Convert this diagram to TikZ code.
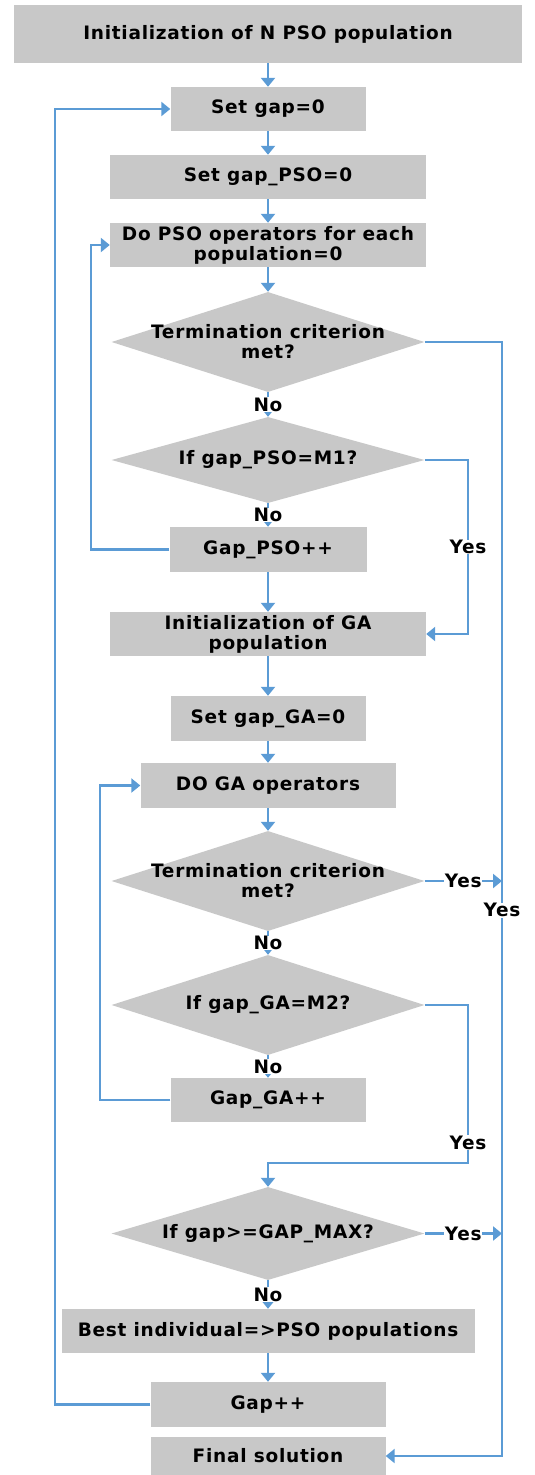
\documentclass[tikz,border=0pt]{standalone}
\usepackage{fontspec}
\setmainfont{DejaVu Sans}[LetterSpace=4]
\usetikzlibrary{shapes.geometric,arrows.meta}
\definecolor{boxgray}{HTML}{C8C8C8}
\definecolor{lineblue}{HTML}{5B9BD5}
\begin{document}
\begin{tikzpicture}[x=1pt,y=-1pt,
  every node/.style={font=\bfseries\fontsize{18.5}{20}\selectfont, align=center},
  box/.style={fill=boxgray, inner sep=0pt},
  dia/.style={diamond, fill=boxgray, inner sep=0pt},
  dtxt/.style={fill=none, inner sep=0pt, align=center},
  arr/.style={draw=lineblue, line width=2.3pt, -{Triangle[length=9pt,width=14pt]}},
  lab/.style={fill=white, inner sep=0.5pt}]
\useasboundingbox (0,0) rectangle (535,1475);
% boxes
\node[box, minimum width=508pt, minimum height=58pt] (init) at (268,34) {Initialization of N PSO population};
\node[box, minimum width=195pt, minimum height=44pt] (setgap) at (268,109) {Set gap=0};
\node[box, minimum width=316pt, minimum height=44pt] (setpso) at (268,177) {Set gap\_PSO=0};
\node[box, minimum width=316pt, minimum height=44pt] (dopso) at (268,245) {Do PSO operators for each\\population=0};
\node[dia, minimum width=313pt, minimum height=100pt, label={[dtxt]center:Termination criterion\\met?}] (d1) at (268,342) {};
\node[dia, minimum width=313pt, minimum height=86pt, label={[dtxt]center:If gap\_PSO=M1?}] (d2) at (268,460) {};
\node[box, minimum width=197pt, minimum height=45pt] (gpso) at (268,549.5) {Gap\_PSO++};
\node[box, minimum width=316pt, minimum height=44pt] (gainit) at (268,634) {Initialization of GA\\population};
\node[box, minimum width=195pt, minimum height=45pt] (setga) at (268,718.5) {Set gap\_GA=0};
\node[box, minimum width=255pt, minimum height=45pt] (doga) at (268,785.5) {DO GA operators};
\node[dia, minimum width=313pt, minimum height=100pt, label={[dtxt]center:Termination criterion\\met?}] (d3) at (268,881) {};
\node[dia, minimum width=313pt, minimum height=100pt, label={[dtxt]center:If gap\_GA=M2?}] (d4) at (268,1005) {};
\node[box, minimum width=195pt, minimum height=44pt] (gga) at (268,1100) {Gap\_GA++};
\node[dia, minimum width=313pt, minimum height=93pt, label={[dtxt]center:If gap>=GAP\_MAX?}] (d5) at (268,1233.5) {};
\node[box, minimum width=413pt, minimum height=44pt] (best) at (268,1331) {Best individual=>PSO populations};
\node[box, minimum width=235pt, minimum height=45pt] (gap) at (268,1404.5) {Gap++};
\node[box, minimum width=235pt, minimum height=38pt] (final) at (268,1456) {Final solution};
% helper coordinates
\coordinate (xr) at (502,0);
\coordinate (xm) at (468,0);
\coordinate (xl1) at (55,0);
\coordinate (xl2) at (91,0);
\coordinate (xl3) at (100,0);
\coordinate (yb) at (0,1163);
% main flow
\draw[arr] (init) -- (setgap);
\draw[arr] (setgap) -- (setpso);
\draw[arr] (setpso) -- (dopso);
\draw[arr] (dopso) -- (d1);
\draw[arr] (d1) -- node[lab]{No} (d2);
\draw[arr] (d2) -- node[lab]{No} (gpso);
\draw[arr] (gpso) -- (gainit);
\draw[arr] (gainit) -- (setga);
\draw[arr] (setga) -- (doga);
\draw[arr] (doga) -- (d3);
\draw[arr] (d3) -- node[lab]{No} (d4);
\draw[arr] (d4) -- node[lab]{No} (gga);
\draw[arr] (d5) -- node[lab]{No} (best);
\draw[arr] (best) -- (gap);
% loops
\draw[arr] (gpso.west) -- (gpso.west -| xl2) -- (dopso.west -| xl2) -- (dopso.west);
\draw[arr] (gga.west) -- (gga.west -| xl3) -- (doga.west -| xl3) -- (doga.west);
\draw[arr] (gap.west) -- (gap.west -| xl1) -- (setgap.west -| xl1) -- (setgap.west);
% yes branches
\draw[arr] (d2.east) -- (d2.east -| xm) -- node[lab]{Yes} (gainit.east -| xm) -- (gainit.east);
\draw[arr] (d4.east) -- (d4.east -| xm) -- node[lab, pos=0.87]{Yes} (xm |- yb) -- (d5.north |- yb) -- (d5.north);
\draw[arr] (d1.east) -- (d1.east -| xr) -- node[lab, pos=0.51]{Yes} (final.east -| xr) -- (final.east);
\draw[arr] (d3.east) -- node[lab]{Yes} (d3.east -| xr);
\draw[arr] (d5.east) -- node[lab]{Yes} (d5.east -| xr);
\end{tikzpicture}
\end{document}
